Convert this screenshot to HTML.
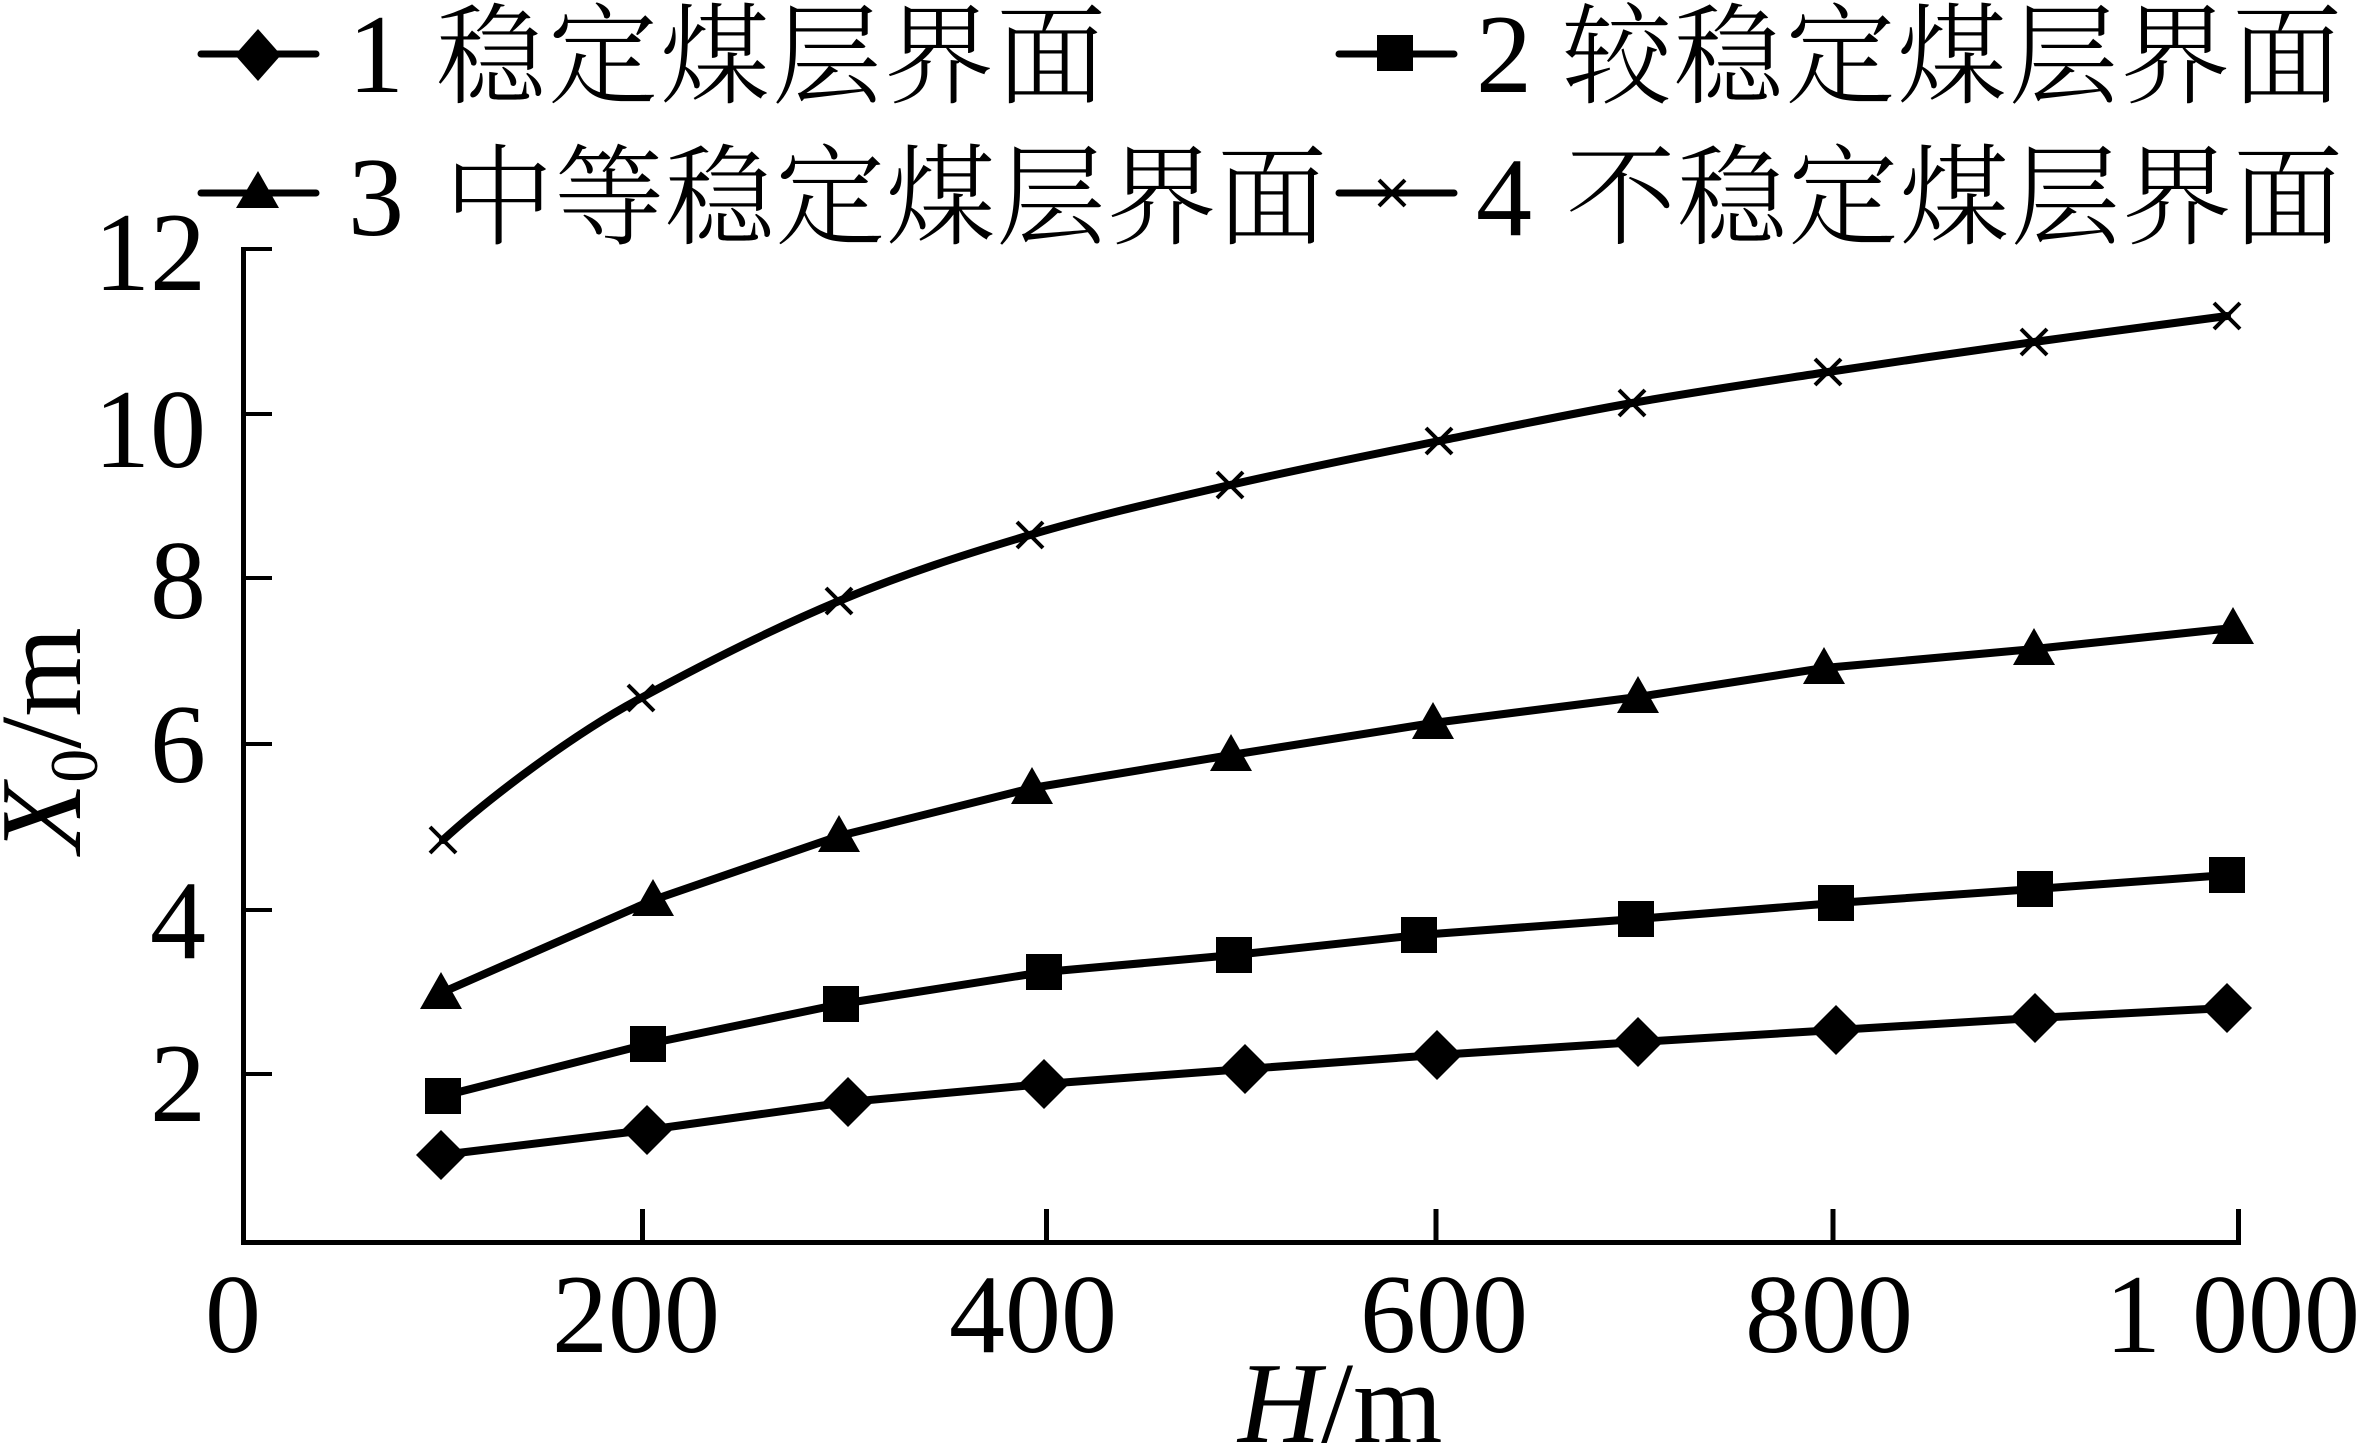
<!DOCTYPE html>
<html>
<head>
<meta charset="utf-8">
<style>
html,body{margin:0;padding:0;background:#fff;}
svg{display:block;}
text{font-family:"Liberation Serif","Noto Serif CJK SC",serif;fill:#000;}
.cjk{font-family:"Noto Serif CJK SC","Liberation Serif",serif;font-weight:300;}
</style>
</head>
<body>
<svg width="2357" height="1444" viewBox="0 0 2357 1444" xmlns="http://www.w3.org/2000/svg">
<rect width="2357" height="1444" fill="#fff"/>

<!-- Legend -->
<g stroke="#000" stroke-width="7" stroke-linecap="round" fill="none">
  <line x1="201" y1="54" x2="316" y2="54"/>
  <line x1="1339" y1="54" x2="1454" y2="54"/>
  <line x1="201" y1="193" x2="316" y2="193"/>
  <line x1="1339" y1="193" x2="1454" y2="193"/>
</g>
<polygon points="258,29 281,55 258,81 235,55" fill="#000"/>
<rect x="1377" y="35" width="36" height="36" fill="#000"/>
<polygon points="258,171 279,208 236,208" fill="#000"/>
<g stroke="#000" stroke-width="4">
  <line x1="1379" y1="180" x2="1405" y2="206"/>
  <line x1="1405" y1="180" x2="1379" y2="206"/>
</g>

<g font-size="112">
  <text x="348" y="92">1</text>
  <text x="1476" y="92">2</text>
  <text x="348" y="235">3</text>
  <text x="1476" y="235">4</text>
</g>
<g font-size="110">
  <text class="cjk" x="436" y="95" textLength="670" lengthAdjust="spacing">稳定煤层界面</text>
  <text class="cjk" x="1562" y="95" textLength="780" lengthAdjust="spacing">较稳定煤层界面</text>
  <text class="cjk" x="444" y="236" textLength="883" lengthAdjust="spacing">中等稳定煤层界面</text>
  <text class="cjk" x="1566" y="236" textLength="777" lengthAdjust="spacing">不稳定煤层界面</text>
</g>

<!-- Axes -->
<g stroke="#000" fill="none">
  <line x1="243.5" y1="247" x2="243.5" y2="1245" stroke-width="5"/>
  <line x1="241" y1="1242.5" x2="2241" y2="1242.5" stroke-width="5"/>
  <g stroke-width="4">
    <line x1="243" y1="249" x2="272" y2="249"/>
    <line x1="243" y1="414" x2="272" y2="414"/>
    <line x1="243" y1="578" x2="272" y2="578"/>
    <line x1="243" y1="744" x2="272" y2="744"/>
    <line x1="243" y1="910" x2="272" y2="910"/>
    <line x1="243" y1="1074" x2="272" y2="1074"/>
  </g>
  <g stroke-width="5">
    <line x1="642.5" y1="1209" x2="642.5" y2="1242"/>
    <line x1="1046.5" y1="1209" x2="1046.5" y2="1242"/>
    <line x1="1436" y1="1209" x2="1436" y2="1242"/>
    <line x1="1833" y1="1209" x2="1833" y2="1242"/>
    <line x1="2238.5" y1="1209" x2="2238.5" y2="1245"/>
  </g>
</g>

<!-- Y tick labels -->
<g font-size="112" text-anchor="end">
  <text x="206" y="290">12</text>
  <text x="206" y="467">10</text>
  <text x="206" y="618">8</text>
  <text x="206" y="782">6</text>
  <text x="206" y="958">4</text>
  <text x="206" y="1121">2</text>
</g>
<!-- X tick labels -->
<g font-size="112" text-anchor="middle">
  <text x="233" y="1352">0</text>
  <text x="636" y="1352">200</text>
  <text x="1033" y="1352">400</text>
  <text x="1444" y="1352">600</text>
  <text x="1829" y="1352">800</text>
</g>
<g font-size="112">
  <text x="2105" y="1352">1</text>
  <text x="2192" y="1352">000</text>
</g>

<!-- Axis titles -->
<text x="1238" y="1442" font-size="115"><tspan font-style="italic">H</tspan>/m</text>
<text transform="translate(80,853) rotate(-90)" font-size="115"><tspan font-style="italic">X</tspan><tspan font-size="68" dy="17">0</tspan><tspan dy="-17">/m</tspan></text>

<!-- Series 4 (x) -->
<path d="M443,840 C490,797 575,733 641,698 C707,662 774.2,628.2 839,601 C903.8,573.8 964.8,554.3 1030,535 C1095.2,515.7 1161.8,500.7 1230,485 C1298.2,469.3 1372,454.7 1439,441 C1506,427.3 1567.2,414.5 1632,403 C1696.8,391.5 1761,382.2 1828,372 C1895,361.8 1967.5,351.3 2034,342 C2100.5,332.7 2194.8,320.3 2227,316" stroke="#000" stroke-width="8" fill="none" stroke-linecap="round"/>
<g stroke="#000" stroke-width="4">
  <path d="M430,827 l26,26 M456,827 l-26,26"/>
  <path d="M628,685 l26,26 M654,685 l-26,26"/>
  <path d="M826,588 l26,26 M852,588 l-26,26"/>
  <path d="M1017,522 l26,26 M1043,522 l-26,26"/>
  <path d="M1217,472 l26,26 M1243,472 l-26,26"/>
  <path d="M1426,428 l26,26 M1452,428 l-26,26"/>
  <path d="M1619,390 l26,26 M1645,390 l-26,26"/>
  <path d="M1815,359 l26,26 M1841,359 l-26,26"/>
  <path d="M2021,329 l26,26 M2047,329 l-26,26"/>
  <path d="M2214,303 l26,26 M2240,303 l-26,26"/>
</g>

<!-- Series 3 (triangles) -->
<polyline points="441,993 653,900 839,836 1032,788 1231,755 1433,723 1638,697 1824,668 2034,649 2233,628" stroke="#000" stroke-width="8" fill="none" stroke-linejoin="round" stroke-linecap="round"/>
<g fill="#000">
  <polygon points="441,972 462,1009 420,1009"/>
  <polygon points="653,879 674,916 632,916"/>
  <polygon points="839,815 860,852 818,852"/>
  <polygon points="1032,767 1053,804 1011,804"/>
  <polygon points="1231,734 1252,771 1210,771"/>
  <polygon points="1433,702 1454,739 1412,739"/>
  <polygon points="1638,676 1659,713 1617,713"/>
  <polygon points="1824,647 1845,684 1803,684"/>
  <polygon points="2034,628 2055,665 2013,665"/>
  <polygon points="2233,607 2254,644 2212,644"/>
</g>

<!-- Series 2 (squares) -->
<polyline points="443,1096 648,1044 841,1004 1044,972 1234,955 1419,935 1636,919 1836,903 2035,889 2227,875" stroke="#000" stroke-width="8" fill="none" stroke-linejoin="round" stroke-linecap="round"/>
<g fill="#000">
  <rect x="425" y="1078" width="36" height="36"/>
  <rect x="630" y="1026" width="36" height="36"/>
  <rect x="823" y="986" width="36" height="36"/>
  <rect x="1026" y="954" width="36" height="36"/>
  <rect x="1216" y="937" width="36" height="36"/>
  <rect x="1401" y="917" width="36" height="36"/>
  <rect x="1618" y="901" width="36" height="36"/>
  <rect x="1818" y="885" width="36" height="36"/>
  <rect x="2017" y="871" width="36" height="36"/>
  <rect x="2209" y="857" width="36" height="36"/>
</g>

<!-- Series 1 (diamonds) -->
<polyline points="441,1155 647,1130 848,1102 1044,1084 1245,1069 1437,1055 1638,1042 1836,1030 2035,1018 2227,1008" stroke="#000" stroke-width="8" fill="none" stroke-linejoin="round" stroke-linecap="round"/>
<g fill="#000">
  <polygon points="441,1130 466,1155 441,1180 416,1155"/>
  <polygon points="647,1105 672,1130 647,1155 622,1130"/>
  <polygon points="848,1077 873,1102 848,1127 823,1102"/>
  <polygon points="1044,1059 1069,1084 1044,1109 1019,1084"/>
  <polygon points="1245,1044 1270,1069 1245,1094 1220,1069"/>
  <polygon points="1437,1030 1462,1055 1437,1080 1412,1055"/>
  <polygon points="1638,1017 1663,1042 1638,1067 1613,1042"/>
  <polygon points="1836,1005 1861,1030 1836,1055 1811,1030"/>
  <polygon points="2035,993 2060,1018 2035,1043 2010,1018"/>
  <polygon points="2227,983 2252,1008 2227,1033 2202,1008"/>
</g>
</svg>
</body>
</html>
